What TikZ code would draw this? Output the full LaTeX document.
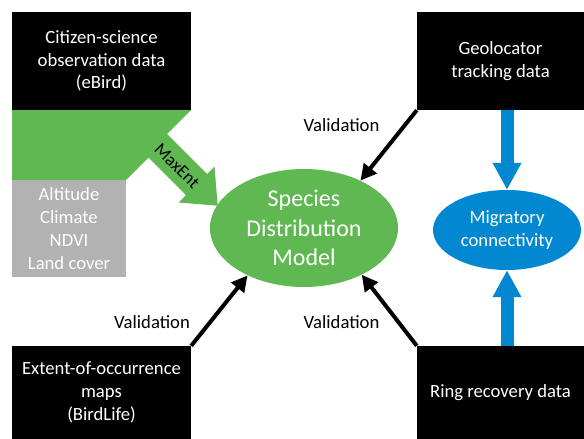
\documentclass[tikz,border=0pt]{standalone}
\usepackage{fontspec}
\setmainfont{Carlito}
\usetikzlibrary{shapes.geometric,arrows.meta}
\definecolor{sdmgreen}{RGB}{96,184,82}
\definecolor{mcblue}{RGB}{2,136,209}
\definecolor{envgray}{RGB}{178,178,178}
\newcommand{\normtext}{\fontsize{18.67}{22.8}\selectfont}
\newcommand{\bigtext}{\fontsize{24}{29.3}\selectfont}
\begin{document}
\begin{tikzpicture}[x=1pt,y=-1pt,
  databox/.style={fill=black,text=white,inner sep=0pt,align=center,font=\normtext},
  envbox/.style={fill=envgray,text=white,inner sep=0pt,align=center,font=\normtext},
  sdmnode/.style={ellipse,fill=sdmgreen,text=white,inner sep=0pt,align=center,font=\bigtext,minimum width=188pt,minimum height=118pt},
  mcnode/.style={ellipse,fill=mcblue,text=white,inner sep=0pt,align=center,font=\normtext,minimum width=148pt,minimum height=80pt},
  lbl/.style={inner sep=0pt,font=\normtext,text=black},
  valarrow/.style={draw=black,line width=4pt,-{Triangle[length=16pt,width=16pt]}},
  bluearrow/.style={draw=mcblue,line width=13pt,-{Triangle[length=27pt,width=27pt]}}
]
\useasboundingbox (0,0) rectangle (584,439);
% green MaxEnt band with arrow
\fill[sdmgreen] (12,110) -- (191,110) -- (167,134) -- (207,174) -- (214.5,166.5)
  -- (217.7,205.7) -- (178.5,202.5) -- (186,195) -- (148.5,157.5) -- (126,180)
  -- (12,180) -- cycle;
\node[rotate=-45,inner sep=0pt,font=\fontsize{18}{21}\selectfont] (maxent) at (177,166) {MaxEnt};
% boxes
\node[databox,minimum width=179pt,minimum height=98pt] (tl) at (101.5,61)
  {Citizen-science\\observation data\\(eBird)};
\node[envbox,minimum width=114pt,minimum height=97pt] (env) at (69,228.5)
  {Altitude\\Climate\\NDVI\\Land cover};
\node[databox,minimum width=167pt,minimum height=98pt] (tr) at (500.5,61)
  {Geolocator\\tracking data};
\node[databox,minimum width=179pt,minimum height=93pt] (bl) at (101.5,392.5)
  {Extent-of-occurrence\\maps\\(BirdLife)};
\node[databox,minimum width=167pt,minimum height=93pt] (br) at (500.5,392.5)
  {Ring recovery data};
% ellipses
\node[sdmnode] (sdm) at (304,228) {Species\\Distribution\\Model};
\node[mcnode] (mc) at (507,230) {Migratory\\connectivity};
% validation arrows
\draw[valarrow] (tr.south west) -- (sdm.40);
\draw[valarrow] (bl.north east) -- (sdm.220);
\draw[valarrow] (br.north west) -- (sdm.-39);
\node[lbl] (v1) at (341.5,125) {Validation};
\node[lbl] (v2) at (152,322) {Validation};
\node[lbl] (v3) at (341.5,322) {Validation};
% blue arrows
\draw[bluearrow] (tr.south -| mc.north) -- (mc.north);
\draw[bluearrow] (br.north -| mc.south) -- (mc.south);
\end{tikzpicture}
\end{document}
